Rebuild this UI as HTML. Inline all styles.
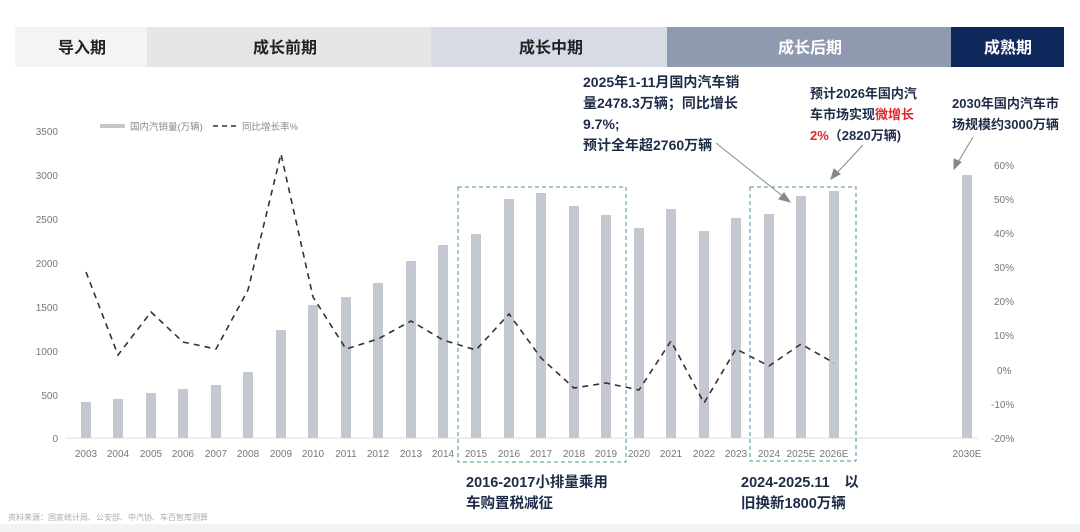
<!DOCTYPE html>
<html><head><meta charset="utf-8"><style>
body{margin:0;width:1080px;height:532px;background:#fff;overflow:hidden;font-family:"Liberation Sans","Noto Sans CJK SC",sans-serif;}
svg{display:block}
</style></head><body>
<svg width="1080" height="532" viewBox="0 0 1080 532" font-family="Liberation Sans, Noto Sans CJK SC, sans-serif">
<rect x="0" y="524" width="1080" height="8" fill="#f2f3f5"/>
<rect x="15" y="27" width="132" height="40" fill="#f4f4f4"/>
<rect x="147" y="27" width="284" height="40" fill="#e6e6e6"/>
<rect x="431" y="27" width="236" height="40" fill="#d7dbe3"/>
<rect x="667" y="27" width="284" height="40" fill="#8f9ab0"/>
<rect x="951" y="27" width="113" height="40" fill="#10295c"/>
<g font-size="16" font-weight="bold" text-anchor="middle">
<text x="82" y="53" fill="#222">导入期</text>
<text x="285" y="53" fill="#222">成长前期</text>
<text x="551" y="53" fill="#222">成长中期</text>
<text x="810" y="53" fill="#fff">成长后期</text>
<text x="1008" y="53" fill="#fff">成熟期</text>
</g>
<g font-size="10" fill="#777" text-anchor="end">
<text x="58" y="135">3500</text><text x="58" y="179">3000</text><text x="58" y="223">2500</text><text x="58" y="267">2000</text><text x="58" y="311">1500</text><text x="58" y="355">1000</text><text x="58" y="399">500</text><text x="58" y="442">0</text>
</g>
<g font-size="10" fill="#777">
<text x="994" y="169">60%</text><text x="994" y="203">50%</text><text x="994" y="237">40%</text><text x="994" y="271">30%</text><text x="994" y="305">20%</text><text x="994" y="339">10%</text><text x="997" y="374">0%</text><text x="991" y="408">-10%</text><text x="991" y="442">-20%</text>
</g>
<rect x="100" y="124" width="25" height="4" fill="#c4c7ce"/>
<text x="130" y="130" font-size="9.5" fill="#888">国内汽销量(万辆)</text>
<line x1="213" y1="126" x2="237" y2="126" stroke="#333" stroke-width="1.5" stroke-dasharray="5,4"/>
<text x="242" y="130" font-size="9.5" fill="#888">同比增长率%</text>
<line x1="66" y1="438" x2="978" y2="438" stroke="#ddd"/>
<g fill="#c4c8d0">
<rect x="81" y="402" width="10" height="36"/>
<rect x="113" y="399" width="10" height="39"/>
<rect x="146" y="393" width="10" height="45"/>
<rect x="178" y="389" width="10" height="49"/>
<rect x="211" y="385" width="10" height="53"/>
<rect x="243" y="372" width="10" height="66"/>
<rect x="276" y="330" width="10" height="108"/>
<rect x="308" y="305" width="10" height="133"/>
<rect x="341" y="297" width="10" height="141"/>
<rect x="373" y="283" width="10" height="155"/>
<rect x="406" y="261" width="10" height="177"/>
<rect x="438" y="245" width="10" height="193"/>
<rect x="471" y="234" width="10" height="204"/>
<rect x="504" y="199" width="10" height="239"/>
<rect x="536" y="193" width="10" height="245"/>
<rect x="569" y="206" width="10" height="232"/>
<rect x="601" y="215" width="10" height="223"/>
<rect x="634" y="228" width="10" height="210"/>
<rect x="666" y="209" width="10" height="229"/>
<rect x="699" y="231" width="10" height="207"/>
<rect x="731" y="218" width="10" height="220"/>
<rect x="764" y="214" width="10" height="224"/>
<rect x="796" y="196" width="10" height="242"/>
<rect x="829" y="191" width="10" height="247"/>
<rect x="962" y="175" width="10" height="263"/>
</g>
<polyline fill="none" stroke="#333" stroke-width="1.6" stroke-dasharray="6,5" points="86,272 118,355 151,312 183,342 216,349 248,290 281,154 313,297 346,349 378,339 411,321 443,340 476,350 509,314 541,358 574,388 606,383 639,390 671,341 704,403 736,349 769,366 801,344 834,363"/>
<g font-size="10" fill="#777" text-anchor="middle">
<text x="86" y="457">2003</text><text x="118" y="457">2004</text><text x="151" y="457">2005</text><text x="183" y="457">2006</text><text x="216" y="457">2007</text><text x="248" y="457">2008</text><text x="281" y="457">2009</text><text x="313" y="457">2010</text><text x="346" y="457">2011</text><text x="378" y="457">2012</text><text x="411" y="457">2013</text><text x="443" y="457">2014</text><text x="476" y="457">2015</text><text x="509" y="457">2016</text><text x="541" y="457">2017</text><text x="574" y="457">2018</text><text x="606" y="457">2019</text><text x="639" y="457">2020</text><text x="671" y="457">2021</text><text x="704" y="457">2022</text><text x="736" y="457">2023</text><text x="769" y="457">2024</text><text x="801" y="457">2025E</text><text x="834" y="457">2026E</text><text x="967" y="457">2030E</text>
</g>
<rect x="458" y="187" width="168" height="275" fill="none" stroke="#4a93a6" stroke-dasharray="4,3"/>
<rect x="750" y="187" width="106" height="274" fill="none" stroke="#4a93a6" stroke-dasharray="4,3"/>
<g stroke="#888" stroke-width="1" fill="#888">
<line x1="716" y1="143" x2="785" y2="198"/><polygon points="790,202 779,199 784,193"/>
<line x1="863" y1="145" x2="835" y2="175"/><polygon points="831,179 834,169 840,174"/>
<line x1="973" y1="137" x2="957" y2="164"/><polygon points="954,169 954,159 961,162"/>
</g>
<g font-size="14" font-weight="bold" fill="#1f2c48">
<text x="583" y="87">2025年1-11月国内汽车销</text>
<text x="583" y="108">量2478.3万辆；同比增长</text>
<text x="583" y="129">9.7%;</text>
<text x="583" y="150">预计全年超2760万辆</text>
</g>
<g font-size="13" font-weight="bold" fill="#1f2c48">
<text x="810" y="98">预计2026年国内汽</text>
<text x="810" y="119">车市场实现<tspan fill="#e0262c">微增长</tspan></text>
<text x="810" y="140"><tspan fill="#e0262c">2%</tspan>（2820万辆)</text>
<text x="952" y="108">2030年国内汽车市</text>
<text x="952" y="129">场规模约3000万辆</text>
</g>
<g font-size="14.5" font-weight="bold" fill="#1f2c48">
<text x="466" y="487">2016-2017小排量乘用</text>
<text x="466" y="508">车购置税减征</text>
<text x="741" y="487">2024-2025.11　以</text>
<text x="741" y="508">旧换新1800万辆</text>
</g>
<text x="8" y="520" font-size="8" fill="#aaa">资料来源：国家统计局、公安部、中汽协、车百智库测算</text>
</svg>
</body></html>
